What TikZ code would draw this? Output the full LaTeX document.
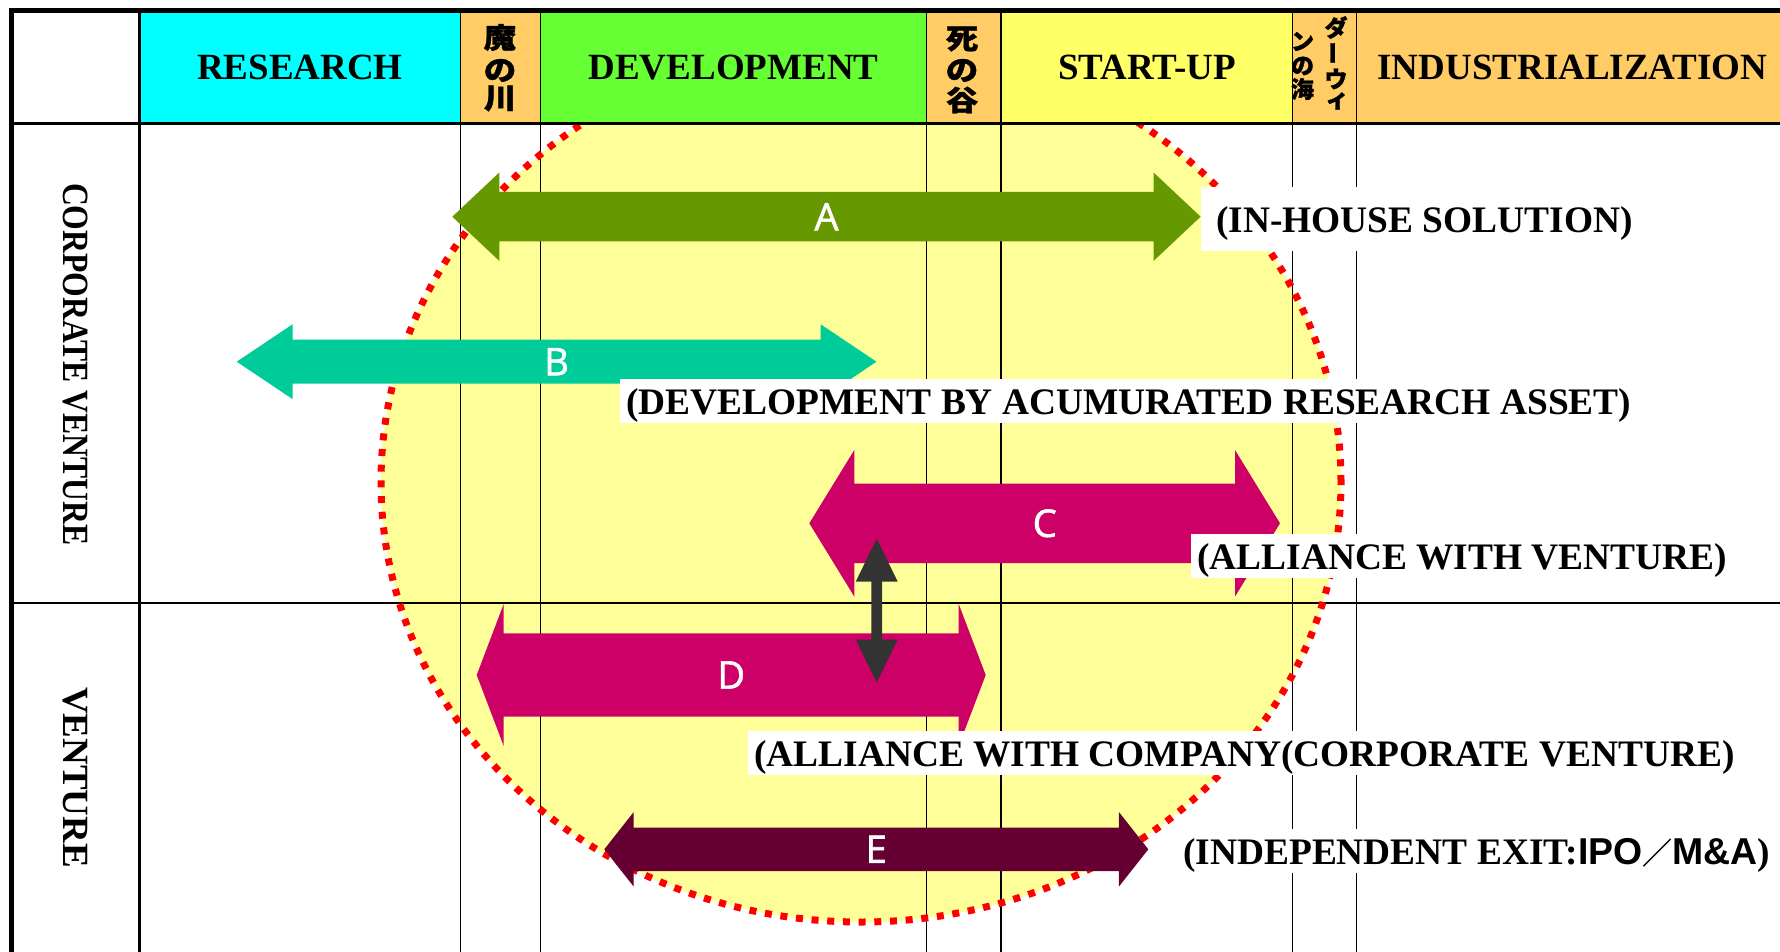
\documentclass[tikz,border=0pt]{standalone}
\usepackage{fontspec}
\usepackage{graphicx}
\setmainfont{Liberation Serif}
\newfontfamily\jpfont{Noto Sans CJK JP}
\newfontfamily\jph{Noto Sans CJK JP}[FakeBold=1.2]
\newfontfamily\osans{Open Sans}[FakeBold=1.6]
\newfontfamily\lsans{Liberation Sans}
\definecolor{hcyan}{HTML}{00FFFF}
\definecolor{horange}{HTML}{FFCC66}
\definecolor{hgreen}{HTML}{66FF33}
\definecolor{hyellow}{HTML}{FFFF66}
\definecolor{ellfill}{HTML}{FFFF99}
\definecolor{ellred}{HTML}{FF0000}
\definecolor{arrA}{HTML}{669900}
\definecolor{arrB}{HTML}{00CC99}
\definecolor{arrC}{HTML}{CC0066}
\definecolor{arrE}{HTML}{660033}
\definecolor{arrG}{HTML}{333333}
\newcommand\hdrfont{\fontsize{37}{40}\selectfont\bfseries}
\newcommand\lbfont{\fontsize{37.4}{40}\selectfont\bfseries}
\newcommand\jpc[1]{\scalebox{1.08}[0.94]{#1}}
\newcommand\blockarr[7]{%
  \fill[#7] (#1,#3) -- ({#1+#6},{#3-#5}) -- ({#1+#6},{#3-#4}) -- ({#2-#6},{#3-#4})
    -- ({#2-#6},{#3-#5}) -- (#2,#3) -- ({#2-#6},{#3+#5}) -- ({#2-#6},{#3+#4})
    -- ({#1+#6},{#3+#4}) -- ({#1+#6},{#3+#5}) -- cycle;}
\newcommand\vblockarr[7]{%
  \fill[#7] (#1,#2) -- ({#1+#5},{#2+#6}) -- ({#1+#4},{#2+#6}) -- ({#1+#4},{#3-#6})
    -- ({#1+#5},{#3-#6}) -- (#1,#3) -- ({#1-#5},{#3-#6}) -- ({#1-#4},{#3-#6})
    -- ({#1-#4},{#2+#6}) -- ({#1-#5},{#2+#6}) -- cycle;}
\tikzset{
  hdr/.style={font=\hdrfont, inner sep=0pt},
  jp/.style={font={\jph\bfseries\fontsize{30}{30}\selectfont}, inner sep=0pt},
  jps/.style={font={\jph\bfseries\fontsize{23}{23}\selectfont}, inner sep=0pt},
  rowlbl/.style={font=\hdrfont, rotate=-90, inner sep=0pt},
  arrlbl/.style={font={\osans\fontsize{38}{40}\selectfont}, text=white, inner sep=0pt},
  lbl/.style={font=\lbfont, fill=white, inner xsep=6pt, inner ysep=5pt,
    text height=30pt, text depth=4pt, anchor=base west},
  thinln/.style={line width=1.3pt, black},
}
\begin{document}
\begin{tikzpicture}[x=1pt,y=-1pt]
\useasboundingbox (0,0) rectangle (1780,952);
\clip (0,0) rectangle (1780,952);
\fill[white] (0,0) rectangle (1780,952);
% ellipse fill
\fill[ellfill] (861,482) ellipse [x radius=480pt, y radius=440pt];
% header cells
\fill[white]   (11.5,11) rectangle (139.5,124);
\fill[hcyan]   (139.5,11) rectangle (460.3,124);
\fill[horange] (460.3,11) rectangle (540.5,124);
\fill[hgreen]  (540.5,11) rectangle (926.5,124);
\fill[horange] (926.5,11) rectangle (1001,124);
\fill[hyellow] (1001,11) rectangle (1292.5,124);
\fill[horange] (1292.5,11) rectangle (1780,124);
% grid lines
\foreach \xx in {460.3,540.5,926.5,1001,1292.5,1356.5}
  \draw[thinln] (\xx,11) -- (\xx,952);
\draw[line width=2.5pt] (139.5,11) -- (139.5,952);
\draw[line width=2pt] (11.5,602.5) -- (1780,602.5);
\draw[line width=3pt] (11.5,124) -- (1780,124);
\draw[line width=5pt] (9,11) -- (1780,11);
\draw[line width=5pt] (11.5,8.5) -- (11.5,952);
% ellipse border
\begin{scope}
\clip (0,125.5) rectangle (1780,952);
\draw[ellred, line width=7pt, dash pattern=on 7pt off 8.7pt] (861,482) ellipse [x radius=480pt, y radius=440pt];
\end{scope}
% header texts
\node[hdr] (research) at (300,67.5) {RESEARCH};
\node[hdr] (develop) at (733.5,67.5) {DEVELOPMENT};
\node[hdr] (startup) at (1147,67.5) {START-UP};
\node[hdr] (indust) at (1572.5,67.5) {INDUSTRIALIZATION};
\node[jp] (j1) at (500,37.5) {\jpc{魔}};
\node[jp] (j2) at (500,70.5) {\jpc{の}};
\node[jp] (j3) at (500,98.5) {\jpc{川}};
\node[jp] (j4) at (962,39) {\jpc{死}};
\node[jp] (j5) at (962,70.5) {\jpc{の}};
\node[jp] (j6) at (962,100) {\jpc{谷}};
\node[jps] (d1) at (1336,27.5) {ダ};
\node[jps] (d2) at (1336,53) {\rotatebox[origin=c]{90}{ー}};
\node[jps] (d3) at (1336,79) {ウ};
\node[jps] (d4) at (1337,101) {ィ};
\node[jps] (d5) at (1302.5,41.5) {ン};
\node[jps] (d6) at (1302.5,66) {の};
\node[jps] (d7) at (1302.5,89) {海};
% row labels
\node[rowlbl] (cv) at (75.5,364.5) {\scalebox{0.856}[1]{CORPORATE VENTURE}};
\node[rowlbl] (ven) at (75.5,777.5) {VENTURE};
% arrows
\blockarr{452.3}{1200.6}{216.7}{24.7}{44.2}{47}{arrA}
\blockarr{236.7}{876.5}{361.7}{22}{37.5}{56}{arrB}
\blockarr{809.3}{1280}{523.3}{39.7}{73.3}{45}{arrC}
\blockarr{476.7}{985.7}{675}{41.7}{71}{27}{arrC}
\blockarr{604.3}{1148.3}{849.3}{21.8}{37.3}{29.4}{arrE}
\vblockarr{876.7}{538.7}{682.5}{5.3}{21}{43}{arrG}
\node[arrlbl] (la) at (826.5,216.7) {A};
\node[arrlbl] (lb) at (556.6,361.7) {B};
\node[arrlbl] (lc) at (1044.7,523.3) {C};
\node[arrlbl] (ld) at (731.2,675) {D};
\node[arrlbl] (le) at (876.3,849.3) {E};
% description labels
\node[lbl, text height=41pt, text depth=13pt] (t1) at (1201,233) {\hspace*{9pt}(IN-HOUSE SOLUTION)};
\node[lbl] (t2) at (620,414.3) {(DEVELOPMENT BY ACUMURATED RESEARCH ASSET)};
\node[lbl] (t3) at (1191,569.3) {(ALLIANCE WITH VENTURE)};
\node[lbl] (t4) at (748,766) {(ALLIANCE WITH COMPANY(CORPORATE VENTURE)};
\node[lbl] (t5) at (1177,864) {(INDEPENDENT EXIT:{\lsans IPO}{\jpfont\fontsize{30}{30}\selectfont ／}{\lsans M\&A})};
\end{tikzpicture}
\end{document}
